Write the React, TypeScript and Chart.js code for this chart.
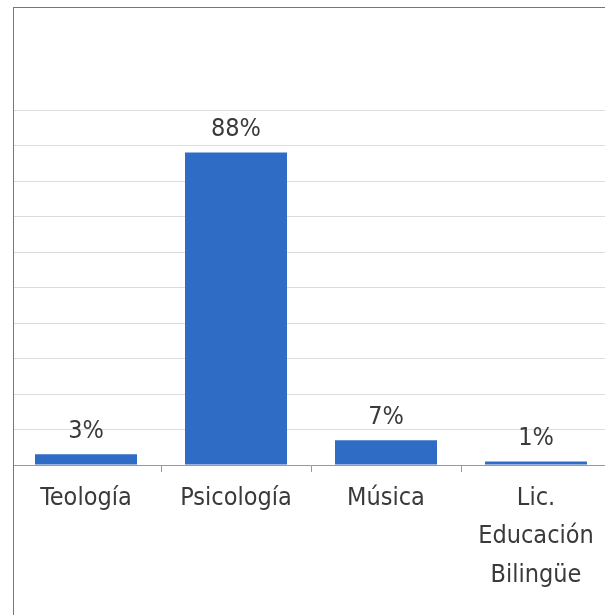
import React, { useEffect, useRef } from "react";
import { Chart, registerables } from "chart.js";

Chart.register(...registerables);

const categories: (string | string[])[] = [
  "Teología",
  "Psicología",
  "Música",
  ["Lic.", "Educación", "Bilingüe"],
];
const values: number[] = [3, 88, 7, 1];
const valueLabels: string[] = ["3%", "88%", "7%", "1%"];
const yMin = 0;
const yMax = 100;
const yStep = 10;

const FONT = "'DejaVu Sans Condensed', 'Liberation Sans', sans-serif";
const TEXT = "#3a3a3a";

const valueLabelPlugin = {
  id: "valueLabels",
  afterDatasetsDraw(chart: any) {
    const { ctx } = chart;
    const meta = chart.getDatasetMeta(0);
    ctx.save();
    ctx.font = `25px ${FONT}`;
    ctx.fillStyle = TEXT;
    ctx.textAlign = "center";
    ctx.textBaseline = "middle";
    meta.data.forEach((bar: any, i: number) => {
      ctx.fillText(valueLabels[i], bar.x, bar.y - 23);
    });
    ctx.restore();
  },
};

export default function App() {
  const ref = useRef<HTMLCanvasElement | null>(null);
  useEffect(() => {
    if (!ref.current) return;
    const chart = new Chart(ref.current, {
      type: "bar",
      data: {
        labels: categories,
        datasets: [
          {
            data: values,
            backgroundColor: "#2f6cc6",
            borderWidth: 0,
            categoryPercentage: 0.68,
            barPercentage: 1,
          },
        ],
      },
      options: {
        animation: false,
        responsive: false,
        maintainAspectRatio: false,
        layout: { padding: { top: 110, left: 11, right: 9, bottom: 0 } },
        plugins: {
          legend: { display: false },
          tooltip: { enabled: false },
        },
        scales: {
          x: {
            grid: {
              drawOnChartArea: false,
              drawTicks: true,
              tickLength: 7,
              color: "#999999",
              offset: true,
            },
            border: { display: true, color: "#999999", width: 1 },
            ticks: {
              color: TEXT,
              padding: 7,
              maxRotation: 0,
              autoSkip: false,
              font: { family: FONT, size: 25, lineHeight: 1.54 },
            },
            afterFit: (scale: any) => {
              scale.height = 150;
            },
          },
          y: {
            min: yMin,
            max: yMax,
            ticks: { display: false, stepSize: yStep },
            grid: { color: "#dcdcdc", drawTicks: false },
            border: { display: false },
            afterFit: (scale: any) => {
              scale.width = 0;
            },
          },
        },
      },
      plugins: [valueLabelPlugin],
    });
    return () => chart.destroy();
  }, []);

  return (
    <div
      style={{
        position: "fixed",
        left: 0,
        top: 0,
        width: 605,
        height: 615,
        overflow: "hidden",
        background: "#ffffff",
      }}
    >
      <canvas
        ref={ref}
        width={620}
        height={615}
        style={{ position: "absolute", left: 0, top: 0, width: 620, height: 615 }}
      />
      <div
        style={{
          position: "absolute",
          left: 0,
          top: 0,
          width: 14,
          height: 615,
          background: "#ffffff",
          pointerEvents: "none",
        }}
      />
      <div
        style={{
          position: "absolute",
          left: 13,
          top: 7,
          width: 650,
          height: 650,
          border: "1px solid #777777",
          boxSizing: "border-box",
          pointerEvents: "none",
        }}
      />
    </div>
  );
}
